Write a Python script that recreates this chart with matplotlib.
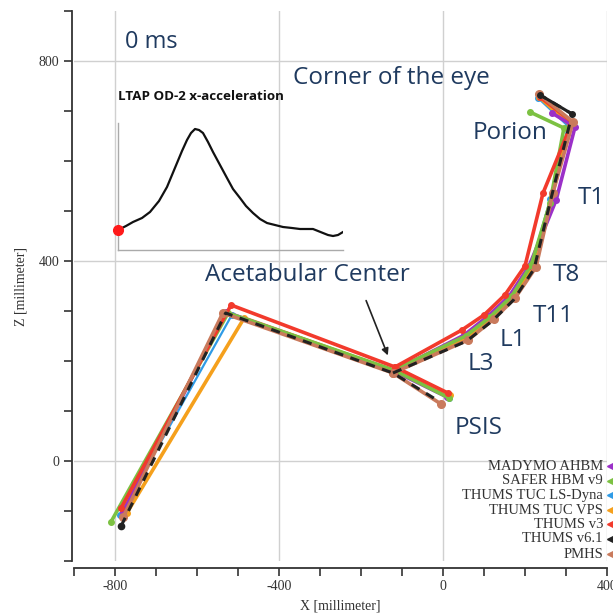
import numpy as np
import matplotlib.pyplot as plt
from matplotlib.ticker import MultipleLocator

plt.rcParams['axes.unicode_minus'] = False

# Landmark order: ankle, knee, acetabular center, PSIS
# Spine order: acetabular center, L3, L1, T11, T8, T1, porion, corner of the eye
names = ["MADYMO AHBM", "SAFER HBM v9", "THUMS TUC LS-Dyna", "THUMS TUC VPS",
         "THUMS v3", "THUMS v6.1", "PMHS"]
colors = ["#9b30c8", "#7cc142", "#2f9be6", "#f5a01c", "#f23a2c", "#222222", "#c97a5c"]

madymo_leg_x = [-780, -530, -120, 10]
madymo_leg_z = [-102, 298, 180, 128]
madymo_spine_x = [-120, 52, 110, 162, 210, 276, 322, 266]
madymo_spine_z = [180, 252, 290, 330, 390, 522, 668, 696]

safer_leg_x = [-810, -524, -120, 15]
safer_leg_z = [-122, 296, 182, 126]
safer_spine_x = [-120, 55, 115, 168, 215, 261, 295, 212]
safer_spine_z = [182, 250, 288, 330, 392, 516, 666, 698]

lsdyna_leg_x = [-788, -515, -120, 15]
lsdyna_leg_z = [-108, 292, 182, 126]
lsdyna_spine_x = [-120, 55, 115, 168, 215, 262, 305, 232]
lsdyna_spine_z = [182, 248, 286, 328, 390, 525, 670, 726]

vps_leg_x = [-771, -485, -118, 17]
vps_leg_z = [-104, 286, 180, 132]
vps_spine_x = [-118, 57, 118, 170, 218, 265, 310, 235]
vps_spine_z = [180, 246, 284, 326, 388, 528, 672, 728]

v3_leg_x = [-785, -517, -117, 12]
v3_leg_z = [-94, 312, 188, 136]
v3_spine_x = [-117, 46, 100, 151, 200, 244, 315, 237]
v3_spine_z = [188, 262, 292, 332, 390, 536, 678, 728]

v61_leg_x = [-785, -530, -122, -7]
v61_leg_z = [-130, 296, 176, 118]
v61_spine_x = [-122, 58, 120, 172, 222, 265, 315, 237]
v61_spine_z = [176, 240, 280, 322, 384, 530, 694, 732]

pmhs_leg_x = [-780, -537, -122, -5]
pmhs_leg_z = [-112, 296, 176, 114]
pmhs_spine_x = [-122, 61, 124, 176, 227, 268, 317, 234]
pmhs_spine_z = [176, 242, 284, 326, 388, 536, 678, 734]

# inset curve (LTAP OD-2 x-acceleration), arbitrary units
acc_t = [0, 8, 15, 24, 32, 41, 49, 54, 59, 64, 69, 73, 77, 81, 85, 90, 95, 102, 109, 115,
         122, 128, 135, 142, 149, 157, 165, 174, 182, 189, 195, 200, 205, 210, 215, 220, 225]
acc_v = [20, 24, 28, 32, 38, 49, 63, 75, 87, 99, 110, 117, 121, 120, 117, 108, 98, 85, 72, 61,
         52, 44, 37, 31, 27, 25, 23, 22, 21, 21, 21, 19, 17, 15, 14, 15, 18]

fig = plt.figure(figsize=(6.13, 6.15), dpi=100)
ax = fig.add_axes([0.1207, 0.0878, 0.8695, 0.8943])

series = [
    (lsdyna_leg_x, lsdyna_leg_z, lsdyna_spine_x, lsdyna_spine_z, 2),
    (vps_leg_x, vps_leg_z, vps_spine_x, vps_spine_z, 3),
    (madymo_leg_x, madymo_leg_z, madymo_spine_x, madymo_spine_z, 0),
    (safer_leg_x, safer_leg_z, safer_spine_x, safer_spine_z, 1),
    (v3_leg_x, v3_leg_z, v3_spine_x, v3_spine_z, 4),
    (pmhs_leg_x, pmhs_leg_z, pmhs_spine_x, pmhs_spine_z, 6),
]
for lx, lz, sx, sz, ci in series:
    ms = 5.5 if ci == 6 else 4
    lw = 2.6 if ci != 2 else 1.6
    ax.plot(lx, lz, '-o', color=colors[ci], lw=lw, ms=ms, zorder=3)
    ax.plot(sx, sz, '-o', color=colors[ci], lw=lw, ms=ms, zorder=3)

# THUMS v6.1 dashed black over the PMHS
ax.plot(v61_leg_x, v61_leg_z, '--', color=colors[5], lw=2.2, dashes=(3, 2.5), zorder=4)
ax.plot(v61_spine_x, v61_spine_z, '--', color=colors[5], lw=2.2, dashes=(3, 2.5), zorder=4)
ax.plot([v61_leg_x[0]], [v61_leg_z[0]], 'o', color=colors[5], ms=4.5, zorder=4)
ax.plot(v61_spine_x[-2:], v61_spine_z[-2:], '-o', color=colors[5], lw=2.2, ms=4, zorder=4)

ax.set_xlim(-900, 400)
ax.set_ylim(-200, 900)
ax.set_xticks([-800, -400, 0, 400])
ax.set_yticks([0, 400, 800])
ax.xaxis.set_minor_locator(MultipleLocator(100))
ax.yaxis.set_minor_locator(MultipleLocator(100))
ax.grid(True, which='major', color='#d0d0d0', lw=1)
ax.set_axisbelow(True)
for s in ['top', 'right']:
    ax.spines[s].set_visible(False)
ax.spines['bottom'].set_position(('outward', 5))
ax.spines['left'].set_position(('outward', 1.5))
for s in ['bottom', 'left']:
    ax.spines[s].set_color('#333333')
    ax.spines[s].set_linewidth(1.3)
ax.tick_params(which='both', direction='out', length=5.5, width=1.2, color='#333333')
ax.tick_params(labelsize=10, labelcolor='#333333')
for lab in ax.get_xticklabels() + ax.get_yticklabels():
    lab.set_family('Liberation Serif')
ax.set_xlabel("X [millimeter]", family='Liberation Serif', fontsize=10, color='#333333', labelpad=4)
ax.set_ylabel("Z [millimeter]", family='Liberation Serif', fontsize=10, color='#333333', labelpad=8)

navy = '#1f3a5f'
tf = dict(family='Open Sans', color=navy, va='center', ha='left')
ax.text(-776, 838, "0 ms", fontsize=17, **tf)
ax.text(-366, 766, "Corner of the eye", fontsize=17.5, **tf)
ax.text(73, 656, "Porion", fontsize=17.5, **tf)
ax.text(329, 526, "T1", fontsize=17.5, **tf)
ax.text(268, 372, "T8", fontsize=17.5, **tf)
ax.text(220, 290, "T11", fontsize=17.5, **tf)
ax.text(139, 242, "L1", fontsize=17.5, **tf)
ax.text(59, 194, "L3", fontsize=17.5, **tf)
ax.text(29, 66, "PSIS", fontsize=17.5, **tf)
ax.text(-580, 372, "Acetabular Center", fontsize=17.5, **tf)
ax.annotate("", xy=(-132, 206), xytext=(-190, 326),
            arrowprops=dict(arrowstyle='-|>', color='#222222', lw=1.2, mutation_scale=10))
ax.text(-793, 730, "LTAP OD-2 x-acceleration", family='Open Sans', fontsize=9.6,
        fontweight='bold', color='#111111', va='center', ha='left')

# inset curve
ins = fig.add_axes([118 / 613, 1 - 250 / 615, 225 / 613, 127 / 615])
ins.patch.set_alpha(0)
ins.plot(acc_t, acc_v, color='#111111', lw=1.6)
ins.plot([acc_t[0]], [acc_v[0]], 'o', color='#ff1a1a', ms=7, clip_on=False, zorder=5)
ins.set_xlim(0, 225)
ins.set_ylim(0, 127)
ins.set_xticks([])
ins.set_yticks([])
for s in ['top', 'right']:
    ins.spines[s].set_visible(False)
for s in ['bottom', 'left']:
    ins.spines[s].set_color('#aaaaaa')
    ins.spines[s].set_linewidth(1)

# legend at lower right, text right aligned with a triangle marker
leg_y = [466, 481, 495, 510, 524, 539, 554]
for i, nm in enumerate(names):
    yy = 1 - leg_y[i] / 615
    fig.text(603 / 613, yy, nm, family='Liberation Serif', fontsize=10.5,
             color='#333333', ha='right', va='center')
    fig.lines.append(plt.Line2D([611 / 613], [yy], marker='<', ms=6, color=colors[i],
                                lw=0, transform=fig.transFigure))

fig.savefig("out.png", dpi=100)
